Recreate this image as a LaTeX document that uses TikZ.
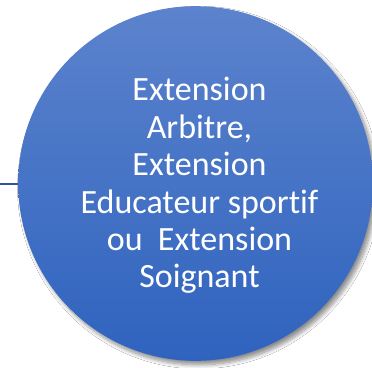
\documentclass[tikz,border=0pt]{standalone}
\usepackage{fontspec}
\setmainfont{Carlito}[Ligatures=NoCommon]
\usetikzlibrary{shadows.blur}
\definecolor{topblue}{RGB}{92,131,205}
\definecolor{botblue}{RGB}{47,99,190}
\definecolor{linkblue}{RGB}{47,85,151}
\tikzset{
  bubble/.style={circle, inner sep=0pt, minimum size=266pt, top color=topblue, bottom color=botblue, draw=none,
    blur shadow={shadow xshift=2.5pt, shadow yshift=-3pt, shadow blur steps=8, shadow opacity=45, shadow blur radius=3pt}},
  label text/.style={text=white, align=center, inner sep=0pt, font=\fontsize{25.5}{28.1}\selectfont},
  link/.style={draw=linkblue, line width=1.5pt}
}
\begin{document}
\begin{tikzpicture}[x=0.75pt, y=-0.75pt]
\useasboundingbox (0,0) rectangle (372,368);
\fill[white] (0,0) rectangle (372,368);
\coordinate (start) at (0,183.5);
\node[bubble] (circ) at (195.5,183.5) {};
\draw[link] (start) -- (circ.west);
\node[label text] (txt) at (199.5,185.5) {Extension\\Arbitre,\\Extension\\Educateur sportif\\ou\ \ Extension\\Soignant};
\end{tikzpicture}
\end{document}
